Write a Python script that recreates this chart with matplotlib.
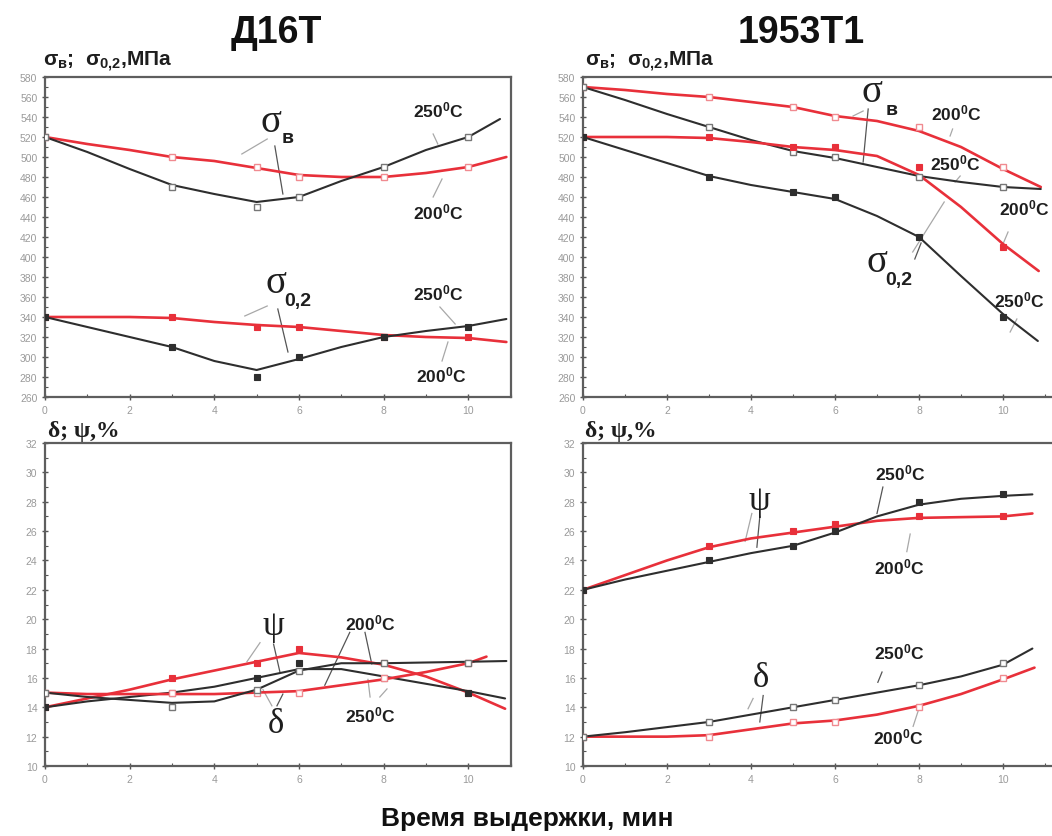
import matplotlib
matplotlib.use('Agg')
import matplotlib.pyplot as plt
from matplotlib.ticker import MultipleLocator

plt.rcParams['font.family'] = ['Liberation Sans', 'DejaVu Sans']
plt.rcParams['mathtext.fontset'] = 'custom'
plt.rcParams['mathtext.rm'] = 'Liberation Sans:bold'
plt.rcParams['mathtext.bf'] = 'Liberation Sans:bold'
plt.rcParams['mathtext.it'] = 'Liberation Sans:bold'
plt.rcParams['mathtext.sf'] = 'Liberation Sans:bold'

# ---------------- data ----------------
time_pts = [0, 3, 5, 6, 8, 10]
grid = [0, 1, 2, 3, 4, 5, 6, 7, 8, 9, 10]

# Д16Т strength, MPa (markers)
d16_sb_200 = [520, 500, 490, 480, 480, 490]
d16_sb_250 = [520, 470, 450, 460, 490, 520]
d16_s02_200 = [340, 340, 330, 330, 320, 320]
d16_s02_250 = [340, 310, 280, 300, 320, 330]
# Д16Т strength, smoothed curves
d16_sb_200_cx = grid + [10.9]
d16_sb_200_c = [520, 513, 507, 500, 496, 489, 482, 480, 480, 484, 490, 500]
d16_sb_250_cx = grid + [10.75]
d16_sb_250_c = [520, 505, 488, 472, 463, 455, 460, 476, 490, 507, 520, 538]
d16_s02_200_cx = grid + [10.9]
d16_s02_200_c = [340, 340, 340, 339, 335, 332, 330, 326, 322, 320, 319, 315]
d16_s02_250_cx = grid + [10.9]
d16_s02_250_c = [340, 330, 320, 310, 296, 287, 298, 310, 320, 326, 331, 338]

# 1953Т1 strength, MPa (markers)
v53_sb_200 = [570, 560, 550, 540, 530, 490]
v53_sb_250 = [570, 530, 505, 500, 480, 470]
v53_s02_200 = [520, 520, 510, 510, 490, 410]
v53_s02_250 = [520, 480, 465, 460, 420, 340]
v53_sb_200_cx = grid + [10.9]
v53_sb_200_c = [570, 567, 563, 560, 555, 550, 541, 536, 526, 510, 488, 470]
v53_sb_250_cx = grid + [10.9]
v53_sb_250_c = [570, 557, 543, 530, 517, 506, 499, 490, 481, 475, 470, 468]
v53_s02_200_cx = grid + [10.85]
v53_s02_200_c = [520, 520, 520, 519, 515, 510, 507, 501, 482, 450, 413, 386]
v53_s02_250_cx = grid + [10.83]
v53_s02_250_c = [520, 507, 494, 481, 472, 465, 458, 441, 420, 381, 343, 316]

# Д16Т plasticity, % (markers)
d16_psi_200 = [14, 16, 17, 18, 17, 15]
d16_psi_250 = [14, 15, 16, 17, 16, 15]
d16_del_200 = [15, 15, 15, 15, 16, 17]
d16_del_250 = [15, 14, 15.2, 16.5, 17, 17]
d16_psi_200_cx = grid + [10.87]
d16_psi_200_c = [14.0, 14.6, 15.2, 15.9, 16.5, 17.1, 17.7, 17.4, 16.9, 16.1, 15.0, 13.9]
d16_psi_250_cx = grid + [10.87]
d16_psi_250_c = [14.0, 14.4, 14.7, 15.0, 15.4, 16.0, 16.6, 16.6, 16.1, 15.6, 15.1, 14.6]
d16_del_200_cx = grid + [10.43]
d16_del_200_c = [15.0, 14.9, 14.9, 14.9, 14.9, 15.0, 15.1, 15.5, 15.9, 16.4, 17.0, 17.45]
d16_del_250_cx = grid + [10.9]
d16_del_250_c = [15.0, 14.7, 14.5, 14.3, 14.4, 15.2, 16.5, 17.0, 17.0, 17.05, 17.1, 17.15]

# 1953Т1 plasticity, % (markers)
v53_psi_200 = [22, 25, 26, 26.5, 27, 27]
v53_psi_250 = [22, 24, 25, 26, 28, 28.5]
v53_del_200 = [12, 12, 13, 13, 14, 16]
v53_del_250 = [12, 13, 14, 14.5, 15.5, 17]
v53_psi_200_cx = grid + [10.7]
v53_psi_200_c = [22, 23.0, 24.0, 24.9, 25.5, 25.9, 26.3, 26.7, 26.9, 26.95, 27.0, 27.2]
v53_psi_250_cx = grid + [10.7]
v53_psi_250_c = [22, 22.7, 23.3, 23.9, 24.5, 25.0, 25.9, 27.0, 27.8, 28.2, 28.4, 28.5]
v53_del_200_cx = grid + [10.75]
v53_del_200_c = [12, 12.0, 12.0, 12.1, 12.5, 12.9, 13.1, 13.5, 14.1, 14.9, 15.9, 16.7]
v53_del_250_cx = grid + [10.7]
v53_del_250_c = [12, 12.3, 12.65, 13.0, 13.5, 14.0, 14.5, 15.0, 15.5, 16.1, 16.9, 18.0]

titles = ['Д16Т', '1953Т1']
xlabel = 'Время выдержки, мин'
t200 = r'$\mathbf{200^0C}$'
t250 = r'$\mathbf{250^0C}$'

# ---------------- style ----------------
RED = '#e8303a'
BLK = '#2e2e2e'
LEAD = '#a8a8a8'
TXT = '#1e1e1e'

W, H = 1052, 837
fig = plt.figure(figsize=(W / 100, H / 100), dpi=100)


def frac(x0, y0, x1, y1):
    return [x0 / W, 1 - y1 / H, (x1 - x0) / W, (y1 - y0) / H]


ax_tl = fig.add_axes(frac(45, 78, 510.6, 398))
ax_tr = fig.add_axes(frac(583, 78, 583 + 42 * 11.3, 398))
ax_bl = fig.add_axes(frac(45, 444, 510.6, 767))
ax_br = fig.add_axes(frac(583, 444, 583 + 42 * 11.3, 767))


def style(ax, ylim, ymaj, ymin, xmax):
    ax.set_xlim(0, xmax)
    ax.set_ylim(*ylim)
    ax.xaxis.set_major_locator(MultipleLocator(2))
    ax.xaxis.set_minor_locator(MultipleLocator(1))
    ax.yaxis.set_major_locator(MultipleLocator(ymaj))
    ax.yaxis.set_minor_locator(MultipleLocator(ymin))
    ax.tick_params(which='major', direction='inout', length=5, width=1,
                   color='#555555', labelsize=7.5, labelcolor='#9a9a9a', pad=3)
    ax.tick_params(which='minor', direction='in', length=2.5, width=0.8,
                   color='#555555')
    ax.tick_params(axis='x', which='major', pad=3)
    for s in ax.spines.values():
        s.set_color('#5e5e5e')
        s.set_linewidth(1.6)


style(ax_tl, (260, 580), 20, 10, 11)
style(ax_tr, (260, 580), 20, 10, 11.3)
style(ax_bl, (10, 32), 2, 1, 11)
style(ax_br, (10, 32), 2, 1, 11.3)
for ax in (ax_tr, ax_br):
    ax.set_xticks([0, 2, 4, 6, 8, 10])


def series(ax, cx, cy, my, color, filled):
    lw = 1.9 if color == RED else 1.5
    ax.plot(cx, cy, color=color, lw=lw, zorder=3, solid_capstyle='round',
            solid_joinstyle='round')
    if filled:
        ax.plot(time_pts, my, ls='none', marker='s', ms=4.2, mfc=color,
                mec=color, mew=0.8, zorder=4)
    else:
        ec = '#f08a90' if color == RED else '#777777'
        ax.plot(time_pts, my, ls='none', marker='s', ms=4.6, mfc='white',
                mec=ec, mew=1.0, zorder=4)


# top-left
series(ax_tl, d16_sb_200_cx, d16_sb_200_c, d16_sb_200, RED, False)
series(ax_tl, d16_sb_250_cx, d16_sb_250_c, d16_sb_250, BLK, False)
series(ax_tl, d16_s02_200_cx, d16_s02_200_c, d16_s02_200, RED, True)
series(ax_tl, d16_s02_250_cx, d16_s02_250_c, d16_s02_250, BLK, True)
# top-right
series(ax_tr, v53_sb_200_cx, v53_sb_200_c, v53_sb_200, RED, False)
series(ax_tr, v53_sb_250_cx, v53_sb_250_c, v53_sb_250, BLK, False)
series(ax_tr, v53_s02_200_cx, v53_s02_200_c, v53_s02_200, RED, True)
series(ax_tr, v53_s02_250_cx, v53_s02_250_c, v53_s02_250, BLK, True)
# bottom-left
series(ax_bl, d16_psi_200_cx, d16_psi_200_c, d16_psi_200, RED, True)
series(ax_bl, d16_psi_250_cx, d16_psi_250_c, d16_psi_250, BLK, True)
series(ax_bl, d16_del_200_cx, d16_del_200_c, d16_del_200, RED, False)
series(ax_bl, d16_del_250_cx, d16_del_250_c, d16_del_250, BLK, False)
# bottom-right
series(ax_br, v53_psi_200_cx, v53_psi_200_c, v53_psi_200, RED, True)
series(ax_br, v53_psi_250_cx, v53_psi_250_c, v53_psi_250, BLK, True)
series(ax_br, v53_del_200_cx, v53_del_200_c, v53_del_200, RED, False)
series(ax_br, v53_del_250_cx, v53_del_250_c, v53_del_250, BLK, False)


def lead(ax, x0, y0, x1, y1, c=LEAD):
    ax.plot([x0, x1], [y0, y1], color=c, lw=0.9, zorder=2)


def temp(ax, x, y, s):
    ax.text(x, y, s, ha='center', va='center', fontsize=12.5, color=TXT,
            zorder=6, clip_on=False)


SERIF = ['Liberation Serif', 'DejaVu Serif']


def greek(ax, x, y, g, sub=None, sx=None, sy=None, size=28):
    ax.text(x, y, g, ha='left', va='baseline', fontsize=size,
            family=SERIF, color=TXT, zorder=6)
    if sub is not None:
        ax.text(sx, sy, sub, ha='left', va='baseline', fontsize=14,
                fontweight='bold', color=TXT, zorder=6)


# annotations top-left
greek(ax_tl, 5.1, 526, 'σ', 'в', 5.58, 515)
lead(ax_tl, 5.25, 518, 4.65, 503)
lead(ax_tl, 5.43, 511, 5.62, 463, '#555555')
temp(ax_tl, 9.3, 548, t250)
lead(ax_tl, 9.17, 523, 9.28, 513)
temp(ax_tl, 9.3, 446, t200)
lead(ax_tl, 9.17, 460, 9.38, 478)
greek(ax_tl, 5.2, 365, 'σ', '0,2', 5.65, 352)
lead(ax_tl, 5.25, 351, 4.72, 341)
lead(ax_tl, 5.5, 348, 5.74, 305, '#555555')
temp(ax_tl, 9.3, 365, t250)
lead(ax_tl, 9.33, 350, 9.69, 333)
temp(ax_tl, 9.35, 283, t200)
lead(ax_tl, 9.38, 296, 9.52, 315)

# annotations top-right
greek(ax_tr, 6.62, 556, 'σ', 'в', 7.2, 543)
lead(ax_tr, 6.79, 548, 6.67, 495, '#555555')
lead(ax_tr, 6.67, 546, 6.43, 541)
temp(ax_tr, 8.88, 545, t200)
lead(ax_tr, 8.8, 528, 8.74, 521)
temp(ax_tr, 8.86, 495, t250)
lead(ax_tr, 8.98, 481, 8.86, 475)
temp(ax_tr, 10.5, 450, t200)
lead(ax_tr, 10.12, 425, 10.0, 413)
temp(ax_tr, 10.38, 358, t250)
lead(ax_tr, 10.33, 338, 10.17, 325)
greek(ax_tr, 6.75, 386, 'σ', '0,2', 7.2, 373)
lead(ax_tr, 7.85, 405, 8.6, 455)
lead(ax_tr, 7.9, 398, 8.05, 414, '#555555')

# annotations bottom-left
greek(ax_bl, 5.13, 19.0, 'ψ', size=25)
lead(ax_bl, 5.08, 18.4, 4.77, 17.1)
lead(ax_bl, 5.4, 18.3, 5.55, 16.4, '#555555')
greek(ax_bl, 5.27, 12.3, 'δ', size=25)
lead(ax_bl, 5.36, 14.1, 5.15, 15.2)
lead(ax_bl, 5.48, 14.1, 5.62, 14.9, '#555555')
temp(ax_bl, 7.68, 19.8, t200)
lead(ax_bl, 7.2, 19.1, 6.61, 15.5, '#555555')
lead(ax_bl, 7.56, 19.1, 7.72, 16.95, '#555555')
temp(ax_bl, 7.68, 13.5, t250)
lead(ax_bl, 7.68, 14.7, 7.63, 15.9)
lead(ax_bl, 7.91, 14.7, 8.08, 15.25)

# annotations bottom-right
greek(ax_br, 3.93, 27.5, 'ψ', size=25)
lead(ax_br, 4.02, 27.2, 3.86, 25.3)
lead(ax_br, 4.21, 27.0, 4.14, 24.9, '#555555')
temp(ax_br, 7.55, 30.0, t250)
lead(ax_br, 7.14, 29.0, 7.0, 27.2, '#555555')
temp(ax_br, 7.52, 23.6, t200)
lead(ax_br, 7.79, 25.8, 7.71, 24.6)
temp(ax_br, 7.52, 17.8, t250)
lead(ax_br, 7.12, 16.4, 7.02, 15.7, '#555555')
temp(ax_br, 7.5, 12.0, t200)
lead(ax_br, 8.02, 14.1, 7.86, 12.7)
greek(ax_br, 4.05, 15.45, 'δ', size=25)
lead(ax_br, 4.05, 14.6, 3.93, 13.9)
lead(ax_br, 4.29, 14.8, 4.21, 13.0, '#555555')

# figure texts
fig.text(276 / W, 1 - 33 / H, titles[0], ha='center', va='center',
         fontsize=27, fontweight='bold', color='#111111')
fig.text(801 / W, 1 - 33 / H, titles[1], ha='center', va='center',
         fontsize=27, fontweight='bold', color='#111111')
ylab = r'$\sigma_в$;  $\sigma_{0{,}2}$,МПа'
fig.text(43 / W, 1 - 66 / H, ylab, ha='left', va='baseline', fontsize=15,
         fontweight='bold', color=TXT)
fig.text(585 / W, 1 - 66 / H, ylab, ha='left', va='baseline', fontsize=15,
         fontweight='bold', color=TXT)
plab = 'δ; ψ,%'
fig.text(48 / W, 1 - 437 / H, plab, ha='left', va='baseline',
         fontsize=17, fontweight='bold', family=SERIF, color=TXT)
fig.text(585 / W, 1 - 437 / H, plab, ha='left', va='baseline',
         fontsize=17, fontweight='bold', family=SERIF, color=TXT)
fig.text(527 / W, 1 - 819 / H, xlabel, ha='center', va='center',
         fontsize=19, fontweight='bold', color='#111111')

fig.savefig('out.png', dpi=100, facecolor='white')
